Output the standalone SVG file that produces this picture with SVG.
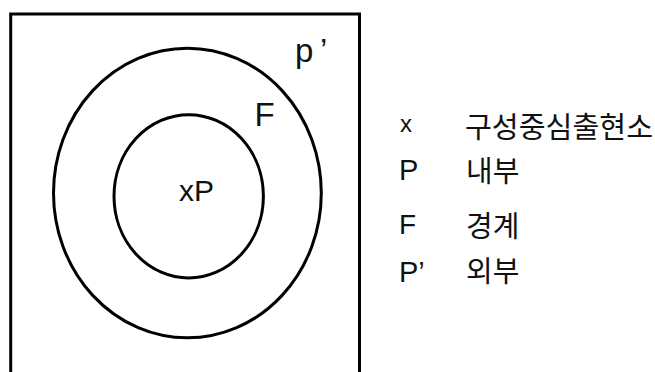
<svg xmlns="http://www.w3.org/2000/svg" width="655" height="372" viewBox="0 0 655 372">
<style>
.ln{fill:none;stroke:#000;stroke-width:3}
.lt{font-family:"Liberation Sans",Arial,sans-serif;fill:#111}
.ko{font-family:"Noto Sans CJK KR","Noto Sans",sans-serif;fill:#111;font-size:29px}
</style>
<rect width="655" height="372" fill="#fff"/>
<g id="frame"><path class="ln" d="M10.7,380 V14 H359.5 V380"/></g>
<g id="outer"><ellipse class="ln" cx="187.4" cy="193" rx="133.9" ry="144.8"/></g>
<g id="inner"><ellipse class="ln" cx="188.7" cy="196.3" rx="74.7" ry="81.6"/></g>
<g id="labels">
<text class="lt" x="179" y="201" font-size="30">xP</text>
<text class="lt" x="254.5" y="125.5" font-size="33">F</text>
<text class="lt" y="61.7" font-size="33"><tspan x="295">p</tspan><tspan x="320">’</tspan></text>
</g>
<g id="legend">
<text class="lt" x="400" y="132" font-size="24">x</text>
<text class="ko" x="465" y="137.5" textLength="188" lengthAdjust="spacingAndGlyphs">구성중심출현소</text>
<text class="lt" x="399" y="180" font-size="29">P</text>
<text class="ko" x="466" y="182">내부</text>
<text class="lt" x="399" y="234" font-size="28">F</text>
<text class="ko" x="466" y="237">경계</text>
<text class="lt" x="399" y="282" font-size="29">P’</text>
<text class="ko" x="466" y="282">외부</text>
</g>
</svg>
